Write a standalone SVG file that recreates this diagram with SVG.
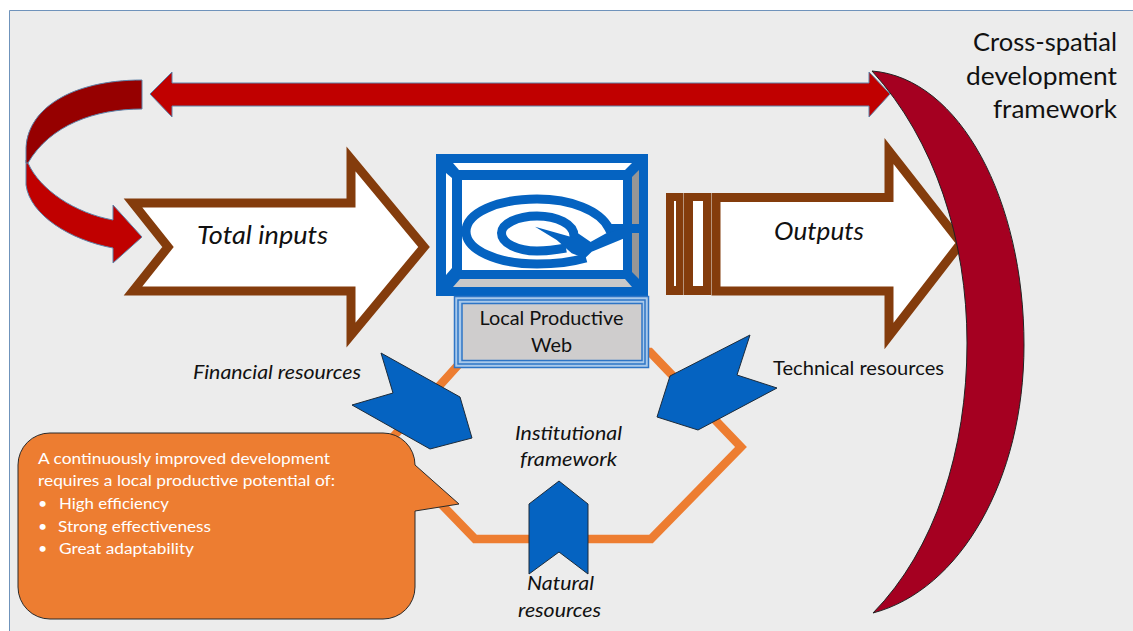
<svg xmlns="http://www.w3.org/2000/svg" width="1133" height="631" viewBox="0 0 1133 631">
<style>
text{font-family:"Lato","Carlito","Liberation Sans",sans-serif;fill:#111;}
.it{font-style:italic}
.w{fill:#fff}
.red{fill:#c00000;stroke:#5f82a8;stroke-width:1}
.brown{fill:#fff;stroke:#843c0c;stroke-width:9;stroke-linejoin:miter;stroke-miterlimit:10}
.blue{fill:#0563c1;stroke:#1c2b3a;stroke-width:1}
.sw{fill:none;stroke:#0563c1;stroke-width:9;stroke-linejoin:miter}
</style>
<rect width="1133" height="631" fill="#fff"/>
<rect x="9" y="10" width="1124" height="621" fill="#ececec"/>
<path d="M1133,10.500H9.500V631" fill="none" stroke="#6f93bb" stroke-width="1"/>
<g id="connectors">
<polygon id="hexagon" points="650,352 741,447 651,539 475,539 385,446 470,352" fill="none" stroke="#ed7d31" stroke-width="8.500" stroke-miterlimit="10"/>
<polygon id="double-arrow" class="red" points="150,94 172,72 172,83 869,83 869,72 890,94 869,117 869,106 172,106 172,117"/>
<path id="curve-lower" class="red" d="M28,163 C40,190 75,213 113,220 L113,205 L142,237 L113,263 L113,248 C70,240 30,215 26,185 L26,160 Z"/>
<path id="curve-upper" d="M142,80 C70,80 26,110 26,150 L26,163 L28,163 C50,125 95,109 142,109 Z" fill="#960000" stroke="#5f82a8" stroke-width="1"/>
</g>
<g id="total-inputs">
<polygon class="brown" points="133,203 351,203 351,159 424,247 351,335 351,291 133,291 168,247"/>
<text class="it" x="197" y="244" font-size="25" textLength="131" lengthAdjust="spacingAndGlyphs">Total inputs</text>
</g>
<g id="outputs">
<polygon class="brown" points="716,197.500 889,197.500 889,151 961,243 889,336 889,291 716,291"/>
<rect x="666" y="193" width="17.500" height="102" fill="#843c0c"/>
<rect x="674" y="201" width="2" height="85" fill="#fff"/>
<rect x="684" y="193" width="27" height="102" fill="#843c0c"/>
<rect x="693" y="201" width="10" height="85" fill="#fff"/>
<text class="it" x="774" y="240" font-size="25" textLength="90" lengthAdjust="spacingAndGlyphs">Outputs</text>
</g>
<g id="cross-spatial">
<path d="M872,71 C960,78 1024,200 1024,345 C1024,480 960,590 873,613 C935,550 967,450 967,343 C967,240 935,140 872,71 Z" fill="#a50021" stroke="#222" stroke-width="1"/>
<text x="973" y="51" font-size="25" textLength="144" lengthAdjust="spacingAndGlyphs">Cross-spatial</text>
<text x="966" y="85" font-size="25" textLength="151" lengthAdjust="spacingAndGlyphs">development</text>
<text x="993" y="118" font-size="25" textLength="124" lengthAdjust="spacingAndGlyphs">framework</text>
</g>
<g id="web-icon">
<rect x="436" y="154" width="212" height="142" fill="#0563c1"/>
<polygon points="453,163 632,163 625,170 459,170" fill="#fff"/>
<polygon points="446,173 452,178 452,268 446,275" fill="#fff"/>
<polygon points="639,170 632,177 632,272 639,279" fill="#969696"/>
<polygon points="460,279 625,279 632,287 453,287" fill="#c9c9c9"/>
<rect x="462" y="180" width="161" height="90" fill="#fff"/>
<path class="sw" d="M639,228.500 L609,228.500 C600,210 570,199 537,199 C497,199 466,213 466,231.500 C466,250 497,264 537,264 C555,264 572,262 586,258"/>
<path class="sw" d="M590,247 L574,236 C574,224 557,216 537,216 C517,216 501.500,224 501.500,233 C501.500,243 517,251 537,251 C545,251 555,250 566,248"/>
<polygon points="535,226.700 590,242.300 606.700,233 625,228 625,238 591.700,251.700 585,258.300 571.700,253.300 556.700,240" fill="#0563c1"/>
</g>
<g id="local-productive-web">
<rect x="454.500" y="296.500" width="194" height="71" fill="#a9c9ea" stroke="#2e75c6" stroke-width="1.500"/>
<rect x="458" y="300" width="187" height="64" fill="#a9c9ea" stroke="#2e75c6" stroke-width="1.500"/>
<rect x="462" y="303.500" width="180" height="57" fill="#cfcdcd" stroke="#2e75c6" stroke-width="1.500"/>
<text x="479.500" y="325" font-size="20" textLength="144" lengthAdjust="spacingAndGlyphs">Local Productive</text>
<text x="531" y="352" font-size="20" textLength="41" lengthAdjust="spacingAndGlyphs">Web</text>
</g>
<g id="financial-resources">
<polygon class="blue" points="381,353 460,397 472,438 430,449 352,405 393,393"/>
<text class="it" x="193" y="379" font-size="19" textLength="168" lengthAdjust="spacingAndGlyphs">Financial resources</text>
</g>
<g id="technical-resources">
<polygon class="blue" points="670,376 750,335 737,375 777,388 698,430 657,417"/>
<text x="773" y="375" font-size="19" textLength="171" lengthAdjust="spacingAndGlyphs">Technical resources</text>
</g>
<g id="natural-resources">
<polygon class="blue" points="529,504 559,481 588,504 588,574 559,552 529,574"/>
<text class="it" x="527" y="590" font-size="20" textLength="67" lengthAdjust="spacingAndGlyphs">Natural</text>
<text class="it" x="518" y="617" font-size="20" textLength="83" lengthAdjust="spacingAndGlyphs">resources</text>
</g>
<g id="institutional-framework">
<text class="it" x="515" y="440" font-size="20" textLength="107" lengthAdjust="spacingAndGlyphs">Institutional</text>
<text class="it" x="520" y="466" font-size="20" textLength="97" lengthAdjust="spacingAndGlyphs">framework</text>
</g>
<g id="callout">
<path d="M50,433 H383 A32,32 0 0 1 415,465 L459,504 L415,511 V587 A32,32 0 0 1 383,619 H50 A32,32 0 0 1 18,587 V465 A32,32 0 0 1 50,433 Z" fill="#ed7d31" stroke="#2a2a2a" stroke-width="1"/>
<text class="w" x="38" y="464" font-size="16" textLength="292" lengthAdjust="spacingAndGlyphs">A continuously improved development</text>
<text class="w" x="38" y="486" font-size="16" textLength="297" lengthAdjust="spacingAndGlyphs">requires a local productive potential of:</text>
<text class="w" x="38" y="509" font-size="16">•</text>
<text class="w" x="59" y="509" font-size="16" textLength="110" lengthAdjust="spacingAndGlyphs">High efficiency</text>
<text class="w" x="38" y="532" font-size="16">•</text>
<text class="w" x="58" y="532" font-size="16" textLength="153" lengthAdjust="spacingAndGlyphs">Strong effectiveness</text>
<text class="w" x="38" y="554" font-size="16">•</text>
<text class="w" x="59" y="554" font-size="16" textLength="135" lengthAdjust="spacingAndGlyphs">Great adaptability</text>
</g>
</svg>
